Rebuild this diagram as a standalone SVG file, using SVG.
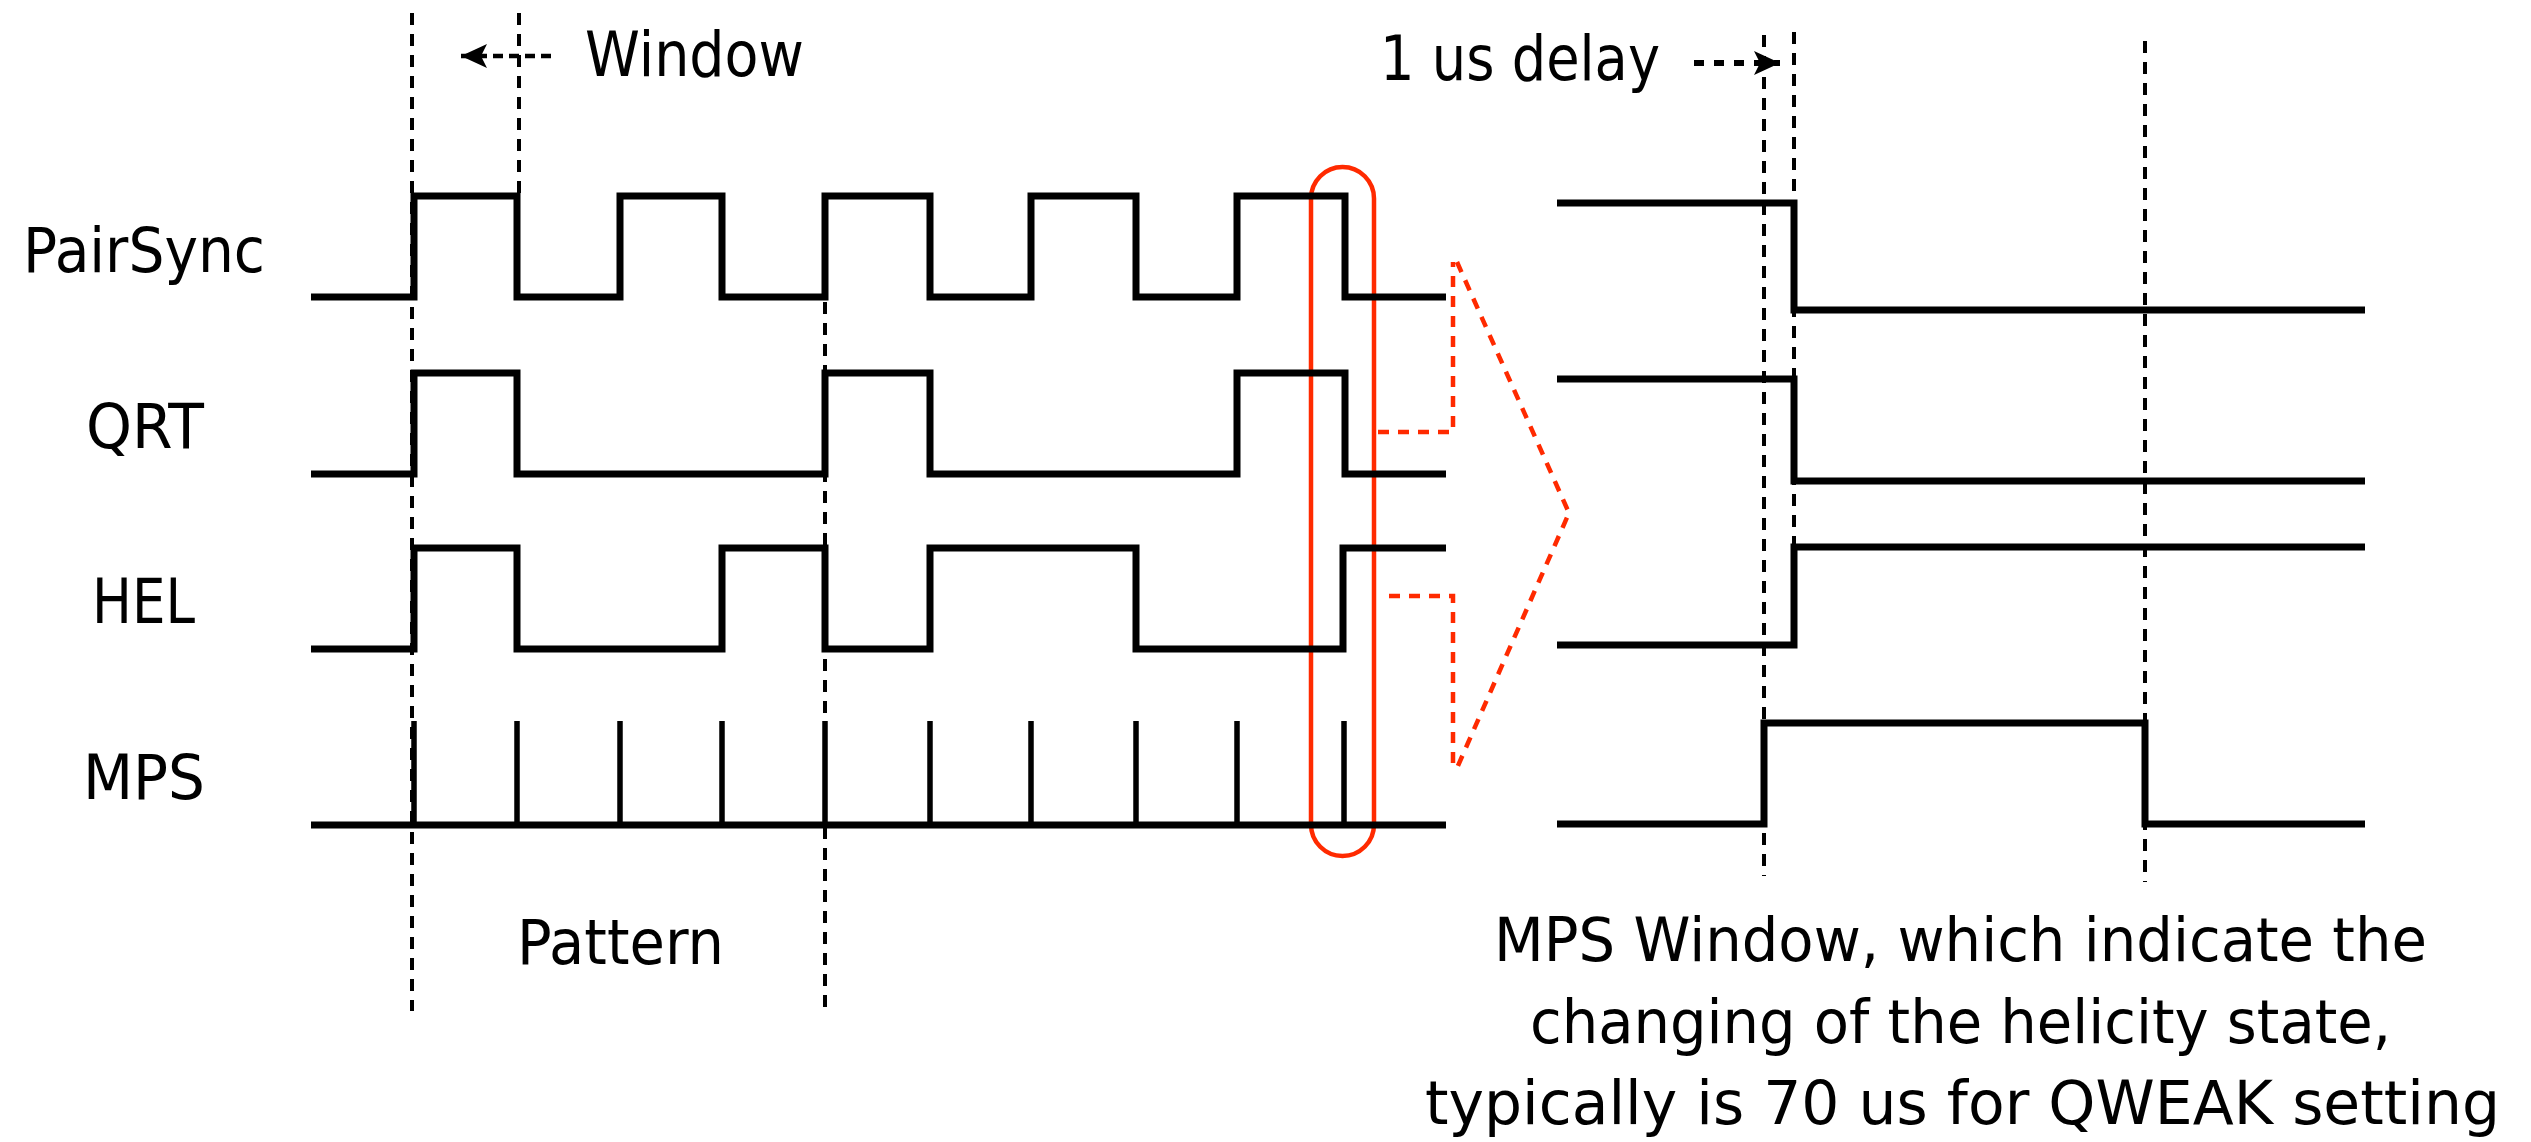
<svg xmlns="http://www.w3.org/2000/svg" width="2531" height="1142" viewBox="0 0 2531 1142">
<style>
.sig{fill:none;stroke:#000;stroke-width:7;stroke-linecap:butt;stroke-linejoin:miter}
.tick{fill:none;stroke:#000;stroke-width:5.5}
.guide{fill:none;stroke:#000;stroke-width:4;stroke-dasharray:12 9}
.red{fill:none;stroke:#ff2a00;stroke-width:4.5}
.reddash{fill:none;stroke:#ff2a00;stroke-width:4.5;stroke-dasharray:11 9}
.lbl{font-family:"DejaVu Sans","Liberation Sans",sans-serif;font-size:62px;fill:#000}
.note{font-family:"DejaVu Sans","Liberation Sans",sans-serif;font-size:60px;fill:#000}
</style>
<defs>
<marker id="ah" markerUnits="userSpaceOnUse" markerWidth="28" markerHeight="26" refX="26" refY="12" orient="auto">
<path d="M0,0 L26,12 L0,24 L6,12 Z" fill="#000"/>
</marker>
</defs>
<rect width="2531" height="1142" fill="#fff"/>

<g id="connectors">
<line class="guide" x1="412" y1="13" x2="412" y2="1011"/>
<line class="guide" x1="519" y1="13" x2="519" y2="193"/>
<line class="guide" x1="825" y1="197" x2="825" y2="1011"/>
<line class="guide" x1="1764" y1="35" x2="1764" y2="876"/>
<line class="guide" x1="1794" y1="32" x2="1794" y2="547"/>
<line class="guide" x1="2145" y1="41" x2="2145" y2="882"/>
<line x1="551" y1="56" x2="461" y2="56" stroke="#000" stroke-width="4.5" stroke-dasharray="10 6" marker-end="url(#ah)"/>
<line x1="1694" y1="63" x2="1780" y2="63" stroke="#000" stroke-width="6" stroke-dasharray="10 10" marker-end="url(#ah)"/>
<rect id="zoom-box" class="red" x="1311" y="167" width="63" height="689" rx="31.5" ry="31.5"/>
<polyline class="reddash" points="1378,432 1453,432 1453,262"/>
<polyline class="reddash" points="1389,596 1453,596 1453,770"/>
<polyline class="reddash" points="1457,262 1569,513 1457,768"/>
</g>

<g id="pairsync">
<text class="lbl" x="23" y="272" textLength="242" lengthAdjust="spacingAndGlyphs">PairSync</text>
<path class="sig" d="M311,297 H414 V196 H517 V297 H620 V196 H722 V297 H825 V196 H930 V297 H1031 V196 H1136 V297 H1237 V196 H1345 V297 H1446"/>
<path class="sig" d="M1557,203 H1794 V310 H2365"/>
</g>

<g id="qrt">
<text class="lbl" x="86" y="448" textLength="118" lengthAdjust="spacingAndGlyphs">QRT</text>
<path class="sig" d="M311,474 H414 V373 H517 V474 H825 V373 H930 V474 H1237 V373 H1345 V474 H1446"/>
<path class="sig" d="M1557,379 H1794 V481 H2365"/>
</g>

<g id="hel">
<text class="lbl" x="92" y="623" textLength="103" lengthAdjust="spacingAndGlyphs">HEL</text>
<path class="sig" d="M311,649 H414 V548 H517 V649 H722 V548 H825 V649 H930 V548 H1136 V649 H1343 V548 H1446"/>
<path class="sig" d="M1557,645 H1794 V547 H2365"/>
</g>

<g id="mps">
<text class="lbl" x="83" y="799" textLength="122" lengthAdjust="spacingAndGlyphs">MPS</text>
<path class="sig" d="M311,825 H1446"/>
<path class="tick" d="M414,825 V721 M517,825 V721 M620,825 V721 M722,825 V721 M825,825 V721 M930,825 V721 M1031,825 V721 M1136,825 V721 M1237,825 V721 M1344,825 V721"/>
<path class="sig" d="M1557,824 H1764 V723 H2145 V824 H2365"/>
</g>

<g id="annotations">
<text class="lbl" x="585" y="76" textLength="219" lengthAdjust="spacingAndGlyphs">Window</text>
<text class="lbl" x="1380" y="80" textLength="280" lengthAdjust="spacingAndGlyphs">1 us delay</text>
<text class="lbl" x="517" y="964" textLength="207" lengthAdjust="spacingAndGlyphs">Pattern</text>
<text class="note" x="1494" y="961" textLength="933" lengthAdjust="spacingAndGlyphs">MPS Window, which indicate the</text>
<text class="note" x="1530" y="1043" textLength="861" lengthAdjust="spacingAndGlyphs">changing of the helicity state,</text>
<text class="note" x="1425" y="1124" textLength="1075" lengthAdjust="spacingAndGlyphs">typically is 70 us for QWEAK setting</text>
</g>
</svg>
